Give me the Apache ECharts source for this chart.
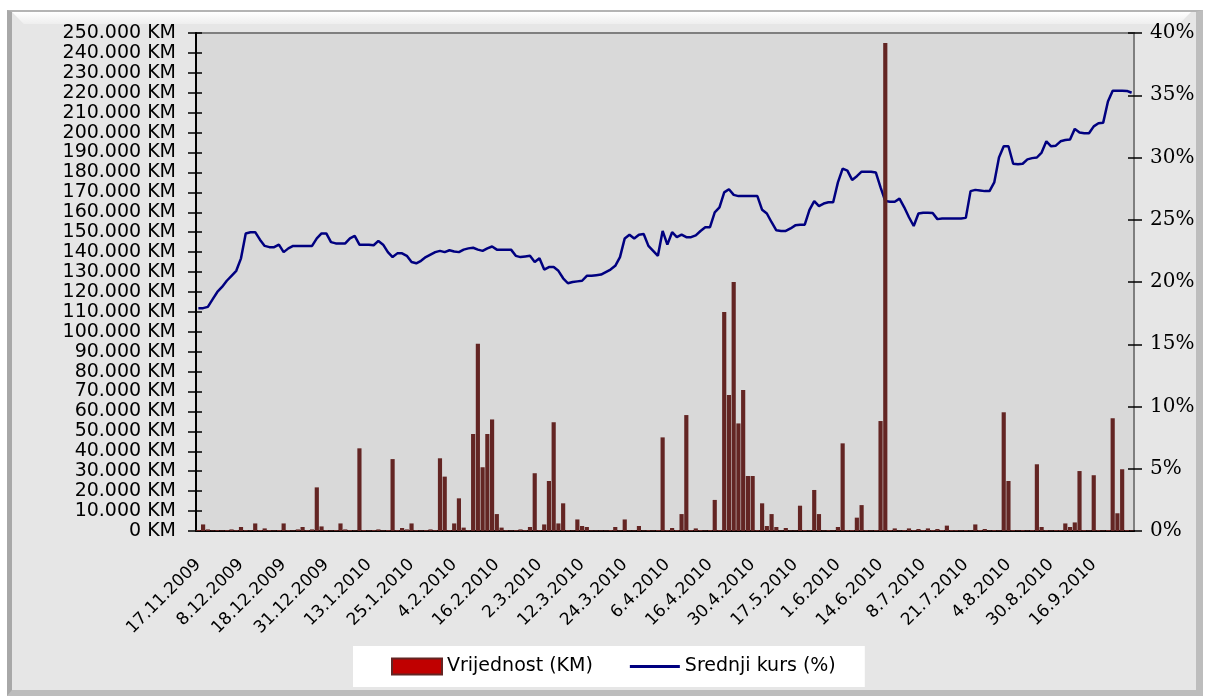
<!DOCTYPE html>
<html>
<head>
<meta charset="utf-8">
<script src="https://cdn.jsdelivr.net/npm/echarts@6/dist/echarts.min.js"></script>
<style>
  body { margin: 0; background: #ffffff; }
  #frame {
    position: absolute; left: 7px; top: 10px; width: 1184px; height: 678px;
    background: #e6e6e6;
    border-top: 2px solid #b4b4b4; border-left: 5px solid #a8a8a8;
    border-right: 7px solid #bdbdbd; border-bottom: 6px solid #bdbdbd;
  }
  #bevel {
    position: absolute; left: 12px; top: 12px; width: 1179px; height: 12px;
    background: linear-gradient(#ffffff, #eeeeee);
    clip-path: polygon(0 0, 100% 0, 99% 100%, 1% 100%);
  }
  #chart { position: absolute; left: 0; top: 0; width: 1206px; height: 697px; }
</style>
</head>
<body>
<div id="frame"></div>
<div id="bevel"></div>
<div id="chart"></div>
<script>
// datumi koji se vide na osi (svaki 9. trgovacki dan)
var labelDates = ['17.11.2009', '8.12.2009', '18.12.2009', '31.12.2009', '13.1.2010', '25.1.2010',
  '4.2.2010', '16.2.2010', '2.3.2010', '12.3.2010', '24.3.2010', '6.4.2010', '16.4.2010',
  '30.4.2010', '17.5.2010', '1.6.2010', '14.6.2010', '8.7.2010', '21.7.2010', '4.8.2010',
  '30.8.2010', '16.9.2010'];

// vrijednost prometa, u hiljadama KM
var vrijednost = [
  0.5, 3.3, 0.8, 0.3, 0.5, 0.3, 0.5, 0.8, 0.5, 2.0,
  0.5, 0.3, 3.8, 0.5, 1.3, 0.5, 0.3, 0.5, 3.8, 0.5,
  0.3, 0.8, 2.0, 0.5, 0.8, 21.9, 2.3, 0.5, 0.3, 0.5,
  3.8, 0.8, 0.5, 0.3, 41.5, 0.5, 0.3, 0.5, 0.8, 0.3,
  0.5, 36.1, 0.5, 1.5, 0.8, 3.8, 0.5, 0.3, 0.5, 0.8,
  0.5, 36.5, 27.3, 0.5, 3.8, 16.4, 1.7, 0.5, 48.7, 94.0,
  32.0, 48.7, 56.0, 8.5, 1.7, 0.5, 0.3, 0.5, 0.8, 0.5,
  2.0, 29.0, 0.5, 3.3, 25.1, 54.6, 3.8, 13.9, 0.5, 0.3,
  5.8, 2.5, 2.0, 0.3, 0.3, 0.3, 0.3, 0.5, 2.0, 0.3,
  5.8, 0.3, 0.3, 2.5, 0.3, 0.5, 0.3, 0.5, 47.0, 0.5,
  1.5, 0.5, 8.5, 58.2, 0.5, 1.3, 0.5, 0.3, 0.5, 15.6,
  0.5, 110.0, 68.3, 125.0, 54.0, 70.8, 27.6, 27.6, 0.5, 13.9,
  2.5, 8.5, 2.0, 0.3, 1.5, 0.3, 0.3, 12.7, 0.5, 0.3,
  20.6, 8.5, 0.3, 0.5, 0.3, 2.0, 44.0, 0.5, 0.5, 6.7,
  13.0, 0.5, 0.3, 0.5, 55.2, 245.0, 0.5, 1.3, 0.3, 0.5,
  1.3, 0.5, 1.0, 0.5, 1.3, 0.5, 1.0, 0.5, 2.7, 0.5,
  0.5, 0.3, 0.5, 0.3, 3.3, 0.5, 1.0, 0.3, 0.5, 0.3,
  59.6, 25.1, 0.5, 0.3, 0.5, 0.3, 0.5, 33.5, 2.0, 0.5,
  0.3, 0.5, 0.5, 3.8, 2.0, 4.3, 30.1, 0.5, 0.3, 28.0,
  0.5, 0.3, 0.5, 56.6, 8.9, 31.0, 0.5, 0.3
];

// srednji kurs, u %
var srednjiKurs = [
  17.9, 17.9, 18.0, 18.6, 19.2, 19.6, 20.1, 20.5, 20.9, 21.9,
  23.9, 24.0, 24.0, 23.4, 22.9, 22.8, 22.8, 23.0, 22.4, 22.7,
  22.9, 22.9, 22.9, 22.9, 22.9, 23.5, 23.9, 23.9, 23.2, 23.1,
  23.1, 23.1, 23.5, 23.7, 23.0, 23.0, 23.0, 22.95, 23.3, 23.0,
  22.4, 22.0, 22.3, 22.3, 22.1, 21.6, 21.5, 21.7, 22.0, 22.2,
  22.4, 22.5, 22.4, 22.55, 22.45, 22.4, 22.6, 22.7, 22.75, 22.6,
  22.5, 22.7, 22.85, 22.6, 22.6, 22.6, 22.6, 22.1, 22.0, 22.05,
  22.1, 21.6, 21.9, 21.0, 21.2, 21.2, 20.9, 20.3, 19.9, 20.0,
  20.05, 20.1, 20.5, 20.5, 20.55, 20.6, 20.8, 21.0, 21.3, 22.0,
  23.5, 23.8, 23.5, 23.8, 23.85, 22.9, 22.5, 22.1, 24.1, 23.0,
  24.0, 23.6, 23.8, 23.6, 23.6, 23.75, 24.1, 24.4, 24.4, 25.6,
  26.0, 27.2, 27.45, 27.0, 26.9, 26.9, 26.9, 26.9, 26.9, 25.8,
  25.5, 24.8, 24.15, 24.1, 24.1, 24.3, 24.55, 24.6, 24.6, 25.8,
  26.5, 26.1, 26.3, 26.4, 26.4, 28.0, 29.1, 28.95, 28.2, 28.5,
  28.86, 28.86, 28.86, 28.8, 27.6, 26.5, 26.45, 26.45, 26.7, 26.0,
  25.2, 24.5, 25.5, 25.57, 25.57, 25.55, 25.05, 25.1, 25.1, 25.1,
  25.1, 25.1, 25.15, 27.3, 27.4, 27.35, 27.3, 27.3, 28.0, 30.0,
  30.9, 30.9, 29.5, 29.45, 29.5, 29.85, 29.95, 30.0, 30.4, 31.3,
  30.9, 30.95, 31.3, 31.4, 31.45, 32.3, 32.0, 31.95, 31.95, 32.5,
  32.75, 32.8, 34.5, 35.37, 35.37, 35.37, 35.35, 35.2
];

// kategorije: vidljivi datum na svakom 9. mjestu, ostali se ne prikazuju
var dani = [];
for (var i = 0; i < vrijednost.length; i++) {
  dani.push(i % 9 === 0 ? labelDates[i / 9] : 'd' + i);
}

var chart = echarts.init(document.getElementById('chart'));

var option = {
  animation: false,
  backgroundColor: 'transparent',
  grid: {
    left: 196, right: 72, top: 33, bottom: 166,
    show: true, backgroundColor: '#d9d9d9', borderColor: '#7f7f7f', borderWidth: 2
  },
  legend: {
    left: 353, top: 646,
    padding: [11, 29, 11, 38],
    backgroundColor: '#ffffff',
    itemWidth: 50, itemHeight: 16, itemGap: 37,
    textStyle: { fontFamily: 'DejaVu Sans', fontSize: 19, color: '#000' },
    data: [
      { name: 'Vrijednost (KM)', icon: 'rect',
        itemStyle: { color: '#c00000', borderColor: '#632523', borderWidth: 2 } },
      { name: 'Srednji kurs (%)', icon: 'path://M0,0 L50,0 L50,3 L0,3 Z',
        itemStyle: { color: '#000080' } }
    ]
  },
  xAxis: [
    {
      type: 'category', data: dani,
      axisLine: { lineStyle: { color: '#000', width: 2 } },
      axisTick: { interval: 0, length: 7, lineStyle: { color: '#000', width: 1.5 } },
      axisLabel: {
        interval: 8, rotate: 45, margin: 31,
        fontFamily: 'DejaVu Sans', fontSize: 17, color: '#000'
      }
    },
    {
      type: 'category', data: dani, position: 'bottom',
      axisLine: { show: false },
      axisTick: { inside: true, interval: 0, length: 7, lineStyle: { color: '#000', width: 1.5 } },
      axisLabel: { show: false }
    }
  ],
  yAxis: [
    {
      type: 'value', position: 'left', min: 0, max: 250, interval: 10,
      splitLine: { show: false },
      axisLine: { show: true, lineStyle: { color: '#000', width: 2 } },
      axisTick: { show: true, length: 8, lineStyle: { color: '#000', width: 1.5 } },
      axisLabel: {
        margin: 20, fontFamily: 'DejaVu Sans', fontSize: 19, color: '#000',
        formatter: function (v) { return v === 0 ? '0 KM' : v + '.000 KM'; }
      }
    },
    {
      type: 'value', position: 'right', min: 0, max: 40, interval: 5,
      splitLine: { show: false },
      axisLine: { show: true, lineStyle: { color: '#7f7f7f', width: 2 } },
      axisTick: { show: true, length: 8, lineStyle: { color: '#000', width: 1.5 } },
      axisLabel: {
        margin: 16, fontFamily: 'DejaVu Serif', fontSize: 20, color: '#000',
        formatter: '{value}%'
      }
    },
    {
      type: 'value', position: 'left', min: 0, max: 250, interval: 10,
      splitLine: { show: false }, axisLine: { show: false }, axisLabel: { show: false },
      axisTick: { show: true, inside: true, length: 6, lineStyle: { color: '#000', width: 1.5 } }
    },
    {
      type: 'value', position: 'right', min: 0, max: 40, interval: 5,
      splitLine: { show: false }, axisLine: { show: false }, axisLabel: { show: false },
      axisTick: { show: true, inside: true, length: 6, lineStyle: { color: '#000', width: 1.5 } }
    }
  ],
  series: [
    {
      name: 'Srednji kurs (%)', type: 'line', yAxisIndex: 1, z: 2,
      data: srednjiKurs,
      symbol: 'none',
      lineStyle: { color: '#000080', width: 2.5 },
      itemStyle: { color: '#000080' }
    },
    {
      name: 'Vrijednost (KM)', type: 'bar', yAxisIndex: 0, z: 3,
      data: vrijednost,
      barCategoryGap: '12%',
      itemStyle: { color: '#632523' }
    }
  ]
};

chart.setOption(option);
</script>
</body>
</html>
